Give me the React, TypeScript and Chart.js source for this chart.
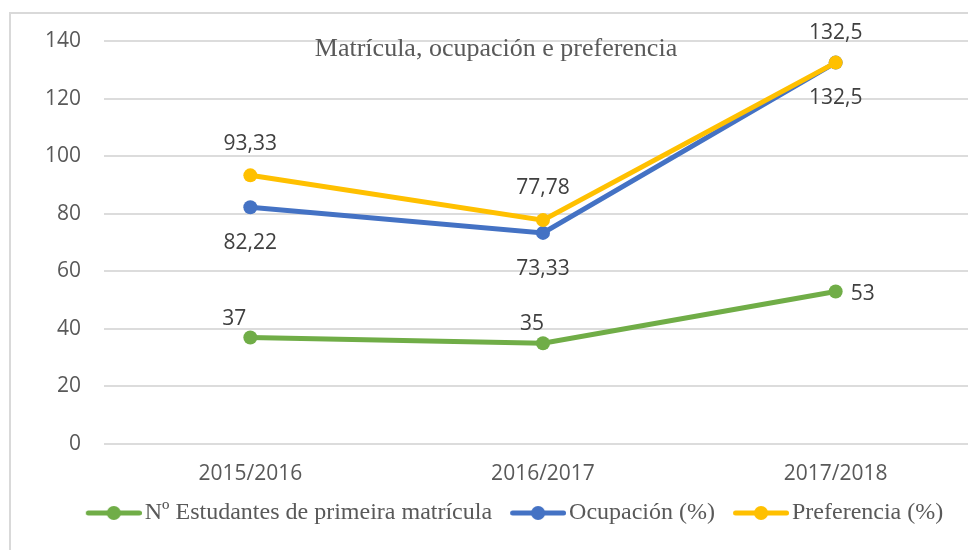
import React, { useEffect, useRef } from "react";
import { Chart, registerables } from "chart.js";

Chart.register(...registerables);

const categories = ["2015/2016", "2016/2017", "2017/2018"];
const estudantes = [37, 35, 53];
const ocupacion = [82.22, 73.33, 132.5];
const preferencia = [93.33, 77.78, 132.5];
const seriesNames = ["Nº Estudantes de primeira matrícula", "Ocupación (%)", "Preferencia (%)"];
const seriesColors = ["#70AD47", "#4472C4", "#FFC000"];
const yTicks = { min: 0, max: 140, step: 20 };
const chartTitle = "Matrícula, ocupación e preferencia";

// label offsets (dx, dy) relative to each point, per series
const labelOffsets = [
  [[-16, -18], [-11, -19], [27, 3]],
  [[0, 36], [0, 36], [0, 35]],
  [[0, -31], [0, -32], [0, -30]],
];

const fmt = (v: number) => String(v).replace(".", ",");

function legendImage(color: string): HTMLCanvasElement {
  const c = document.createElement("canvas");
  c.width = 65;
  c.height = 16;
  const g = c.getContext("2d")!;
  g.strokeStyle = color;
  g.lineWidth = 5;
  g.lineCap = "round";
  g.beginPath();
  g.moveTo(11.5, 8);
  g.lineTo(62.5, 8);
  g.stroke();
  g.fillStyle = color;
  g.beginPath();
  g.arc(37, 8, 7, 0, Math.PI * 2);
  g.fill();
  return c;
}

export default function App() {
  const ref = useRef<HTMLCanvasElement | null>(null);

  useEffect(() => {
    if (!ref.current) return;
    const images = seriesColors.map(legendImage);

    const titlePlugin = {
      id: "overlayTitle",
      afterLayout(chart: any) {
        if (chart.legend) {
          chart.legend.left += 18;
          chart.legend.right += 18;
        }
      },
      afterDraw(chart: any) {
        const ctx = chart.ctx;
        ctx.save();
        ctx.font = '26px "Liberation Serif"';
        ctx.fillStyle = "#595959";
        ctx.textAlign = "center";
        ctx.textBaseline = "middle";
        ctx.fillText(chartTitle, 485, 35);
        ctx.restore();
      },
    };

    const labelPlugin = {
      id: "valueLabels",
      afterDatasetsDraw(chart: any) {
        const ctx = chart.ctx;
        ctx.save();
        ctx.font = '21px "Open Sans"';
        ctx.fillStyle = "#404040";
        ctx.textAlign = "center";
        ctx.textBaseline = "middle";
        chart.data.datasets.forEach((ds: any, i: number) => {
          const meta = chart.getDatasetMeta(i);
          meta.data.forEach((pt: any, j: number) => {
            const [dx, dy] = labelOffsets[i][j];
            ctx.fillText(fmt(ds.data[j]), pt.x + dx, pt.y + dy);
          });
        });
        ctx.restore();
      },
    };

    const values = [estudantes, ocupacion, preferencia];
    const chart = new Chart(ref.current, {
      type: "line",
      data: {
        labels: categories,
        datasets: values.map((d, i) => ({
          label: seriesNames[i],
          data: d,
          borderColor: seriesColors[i],
          backgroundColor: seriesColors[i],
          borderWidth: 5,
          pointRadius: 7,
          pointBorderWidth: 0,
          pointHoverRadius: 7,
          tension: 0,
          order: 2 - i,
        })),
      },
      options: {
        responsive: false,
        animation: false,
        layout: { autoPadding: false, padding: { top: 27, left: 0, right: 0, bottom: 0 } },
        plugins: {
          tooltip: { enabled: false },
          title: { display: false },
          legend: {
            position: "bottom",
            labels: {
              usePointStyle: true,
              pointStyleWidth: 47,
              padding: 18,
              color: "#595959",
              font: { family: "Liberation Serif", size: 24 },
              generateLabels: () =>
                seriesNames.map((n, i) => ({
                  text: n,
                  pointStyle: images[i] as any,
                  fillStyle: seriesColors[i],
                  strokeStyle: seriesColors[i],
                  lineWidth: 0,
                  fontColor: "#595959",
                  hidden: false,
                  datasetIndex: i,
                })),
            },
          },
        },
        scales: {
          x: {
            offset: true,
            grid: { display: false, drawTicks: false },
            border: { display: false },
            ticks: {
              color: "#595959",
              font: { family: "Open Sans", size: 21 },
              padding: 17,
            },
            afterFit: (s: any) => {
              s.height = 39;
              s.paddingLeft = 0;
              s.paddingRight = 0;
            },
          },
          y: {
            min: yTicks.min,
            max: yTicks.max,
            grid: { color: "#dcdcdc", lineWidth: 2, drawTicks: false },
            border: { display: false },
            ticks: {
              stepSize: yTicks.step,
              color: "#595959",
              font: { family: "Open Sans", size: 21 },
              padding: 23,
            },
            afterFit: (s: any) => {
              s.width = 93;
              s.paddingTop = 13;
              s.paddingBottom = 13;
            },
          },
        },
      },
      plugins: [labelPlugin, titlePlugin],
    });
    return () => chart.destroy();
  }, []);

  return (
    <div style={{ position: "fixed", left: 0, top: 0, width: 968, height: 550, overflow: "hidden", background: "#fff" }}>
      <div
        style={{
          position: "absolute",
          left: 9,
          top: 12,
          width: 1000,
          height: 600,
          borderLeft: "2px solid #d9d9d9",
          borderTop: "2px solid #d9d9d9",
        }}
      >
        <canvas ref={ref} width={971} height={521} style={{ display: "block", width: 971, height: 521 }} />
      </div>
    </div>
  );
}
